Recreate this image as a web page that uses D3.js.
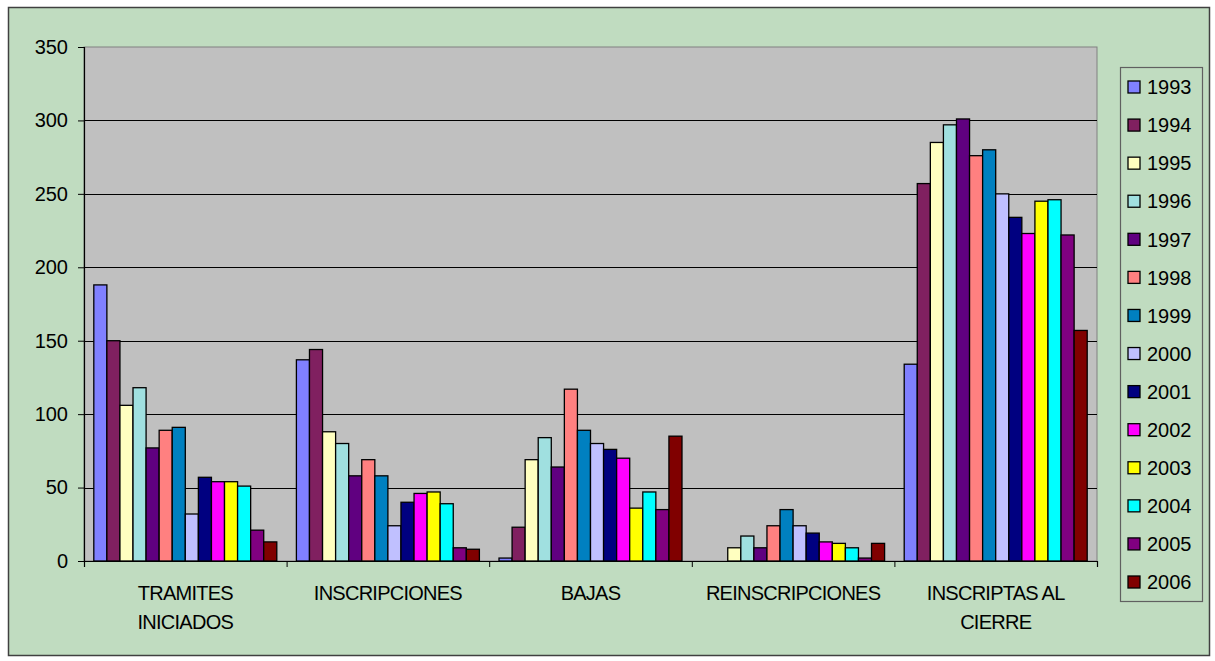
<!DOCTYPE html>
<html>
<head>
<meta charset="utf-8">
<script src="https://cdn.jsdelivr.net/npm/d3@7"></script>
<style>
  html, body { margin: 0; padding: 0; background: #fff; }
  svg { display: block; font-family: "Liberation Sans", Arial, sans-serif; }
</style>
</head>
<body>
<svg id="chart" width="1215" height="661"></svg>
<script>
// categories and years
let categories = ['TRAMITES INICIADOS', 'INSCRIPCIONES', 'BAJAS', 'REINSCRIPCIONES', 'INSCRIPTAS AL CIERRE']
let categoryLines = [['TRAMITES', 'INICIADOS'], ['INSCRIPCIONES'], ['BAJAS'], ['REINSCRIPCIONES'], ['INSCRIPTAS AL', 'CIERRE']]
let years = ['1993', '1994', '1995', '1996', '1997', '1998', '1999', '2000', '2001', '2002', '2003', '2004', '2005', '2006']
let yearColors = ['#8080ff', '#802060', '#ffffc0', '#a0e0e0', '#600080', '#ff8080', '#0080c0',
                  '#c0c0ff', '#000080', '#ff00ff', '#ffff00', '#00ffff', '#800080', '#800000']

// values per category, one per year
let tramites        = [188, 150, 106, 118, 77, 89, 91, 32, 57, 54, 54, 51, 21, 13]
let inscripciones   = [137, 144, 88, 80, 58, 69, 58, 24, 40, 46, 47, 39, 9, 8]
let bajas           = [2, 23, 69, 84, 64, 117, 89, 80, 76, 70, 36, 47, 35, 85]
let reinscripciones = [0, 0, 9, 17, 9, 24, 35, 24, 19, 13, 12, 9, 2, 12]
let inscriptasCierre = [134, 257, 285, 297, 301, 276, 280, 250, 234, 223, 245, 246, 222, 157]

let yTicks = [0, 50, 100, 150, 200, 250, 300, 350]

let valuesByCategory = [tramites, inscripciones, bajas, reinscripciones, inscriptasCierre]

let svg = d3.select('#chart')

// outer chart area
svg.append('rect')
    .attr('x', 8.5).attr('y', 7.5)
    .attr('width', 1201).attr('height', 648)
    .attr('fill', '#c0dcc0')
    .attr('stroke', '#404040')
    .attr('stroke-width', 1.5)

let plot = { left: 84, right: 1097, top: 47, bottom: 561 }

let y = d3.scaleLinear().domain([0, 350]).range([plot.bottom, plot.top])
let x0 = d3.scaleBand().domain(categories).range([plot.left, plot.right]).padding(0)
let x1 = d3.scaleBand().domain(years).range([0, x0.bandwidth()]).paddingInner(0).paddingOuter(0.75)
let color = d3.scaleOrdinal().domain(years).range(yearColors)

// plot background
svg.append('rect')
    .attr('x', plot.left).attr('y', plot.top)
    .attr('width', plot.right - plot.left).attr('height', plot.bottom - plot.top)
    .attr('fill', '#c0c0c0')
    .attr('stroke', '#808080')
    .attr('stroke-width', 1)

// gridlines
svg.append('g')
    .selectAll('line')
    .data(yTicks.filter(t => t > 0 && t < 350))
    .enter()
    .append('line')
    .attr('x1', plot.left).attr('x2', plot.right)
    .attr('y1', d => Math.round(y(d)) + 0.5).attr('y2', d => Math.round(y(d)) + 0.5)
    .attr('stroke', '#000')
    .attr('stroke-width', 1)

// bars
let groups = svg.append('g')
    .selectAll('g')
    .data(categories)
    .enter()
    .append('g')
    .attr('transform', d => 'translate(' + x0(d) + ',0)')

groups.selectAll('rect')
    .data((d, i) => years.map((yr, j) => ({ year: yr, value: valuesByCategory[i][j] })).filter(e => e.value > 0))
    .enter()
    .append('rect')
    .attr('x', d => x1(d.year))
    .attr('y', d => y(d.value))
    .attr('width', x1.bandwidth())
    .attr('height', d => y(0) - y(d.value))
    .attr('fill', d => color(d.year))
    .attr('stroke', '#000')
    .attr('stroke-width', 1.3)

// y axis
let yAxis = svg.append('g')
    .attr('transform', 'translate(' + plot.left + ',0)')
    .call(d3.axisLeft(y).tickValues(yTicks).tickSize(6).tickPadding(10))
yAxis.select('.domain').attr('stroke', '#000').attr('stroke-width', 1.2)
yAxis.selectAll('.tick line').attr('stroke', '#000')
yAxis.selectAll('.tick text')
    .attr('font-size', '20px')
    .attr('fill', '#000')
    .attr('font-family', '"Liberation Sans", Arial, sans-serif')

// x axis, ticks at category boundaries
let xEdge = d3.scaleLinear().domain([0, categories.length]).range([plot.left, plot.right])
let xAxis = svg.append('g')
    .attr('transform', 'translate(0,' + plot.bottom + ')')
    .call(d3.axisBottom(xEdge).tickValues(d3.range(categories.length + 1)).tickSize(6).tickFormat(''))
xAxis.select('.domain').attr('stroke', '#000').attr('stroke-width', 1.2)
xAxis.selectAll('.tick line').attr('stroke', '#000')

// category labels
let labels = svg.append('g')
    .selectAll('text')
    .data(categories)
    .enter()
    .append('text')
    .attr('x', d => x0(d) + x0.bandwidth() / 2)
    .attr('y', 600)
    .attr('text-anchor', 'middle')
    .attr('font-size', '20px')
    .attr('letter-spacing', '-0.75px')
    .attr('fill', '#000')

labels.selectAll('tspan')
    .data((d, i) => categoryLines[i])
    .enter()
    .append('tspan')
    .attr('x', function () { return d3.select(this.parentNode).attr('x') })
    .attr('dy', (d, i) => i === 0 ? 0 : 29)
    .text(d => d)

// legend
svg.append('rect')
    .attr('x', 1120.5).attr('y', 67.5)
    .attr('width', 82).attr('height', 534)
    .attr('fill', '#c0dcc0')
    .attr('stroke', '#606060')
    .attr('stroke-width', 1.2)

let legendY = d3.scalePoint().domain(years).range([87, 582])

let legendItems = svg.append('g')
    .selectAll('g')
    .data(years)
    .enter()
    .append('g')
    .attr('transform', d => 'translate(0,' + legendY(d) + ')')

legendItems.append('rect')
    .attr('x', 1128).attr('y', -6)
    .attr('width', 12).attr('height', 12)
    .attr('fill', d => color(d))
    .attr('stroke', '#000')
    .attr('stroke-width', 1.3)

legendItems.append('text')
    .attr('x', 1147)
    .attr('y', 0)
    .attr('dy', '0.36em')
    .attr('font-size', '20px')
    .attr('fill', '#000')
    .text(d => d)
</script>
</body>
</html>
